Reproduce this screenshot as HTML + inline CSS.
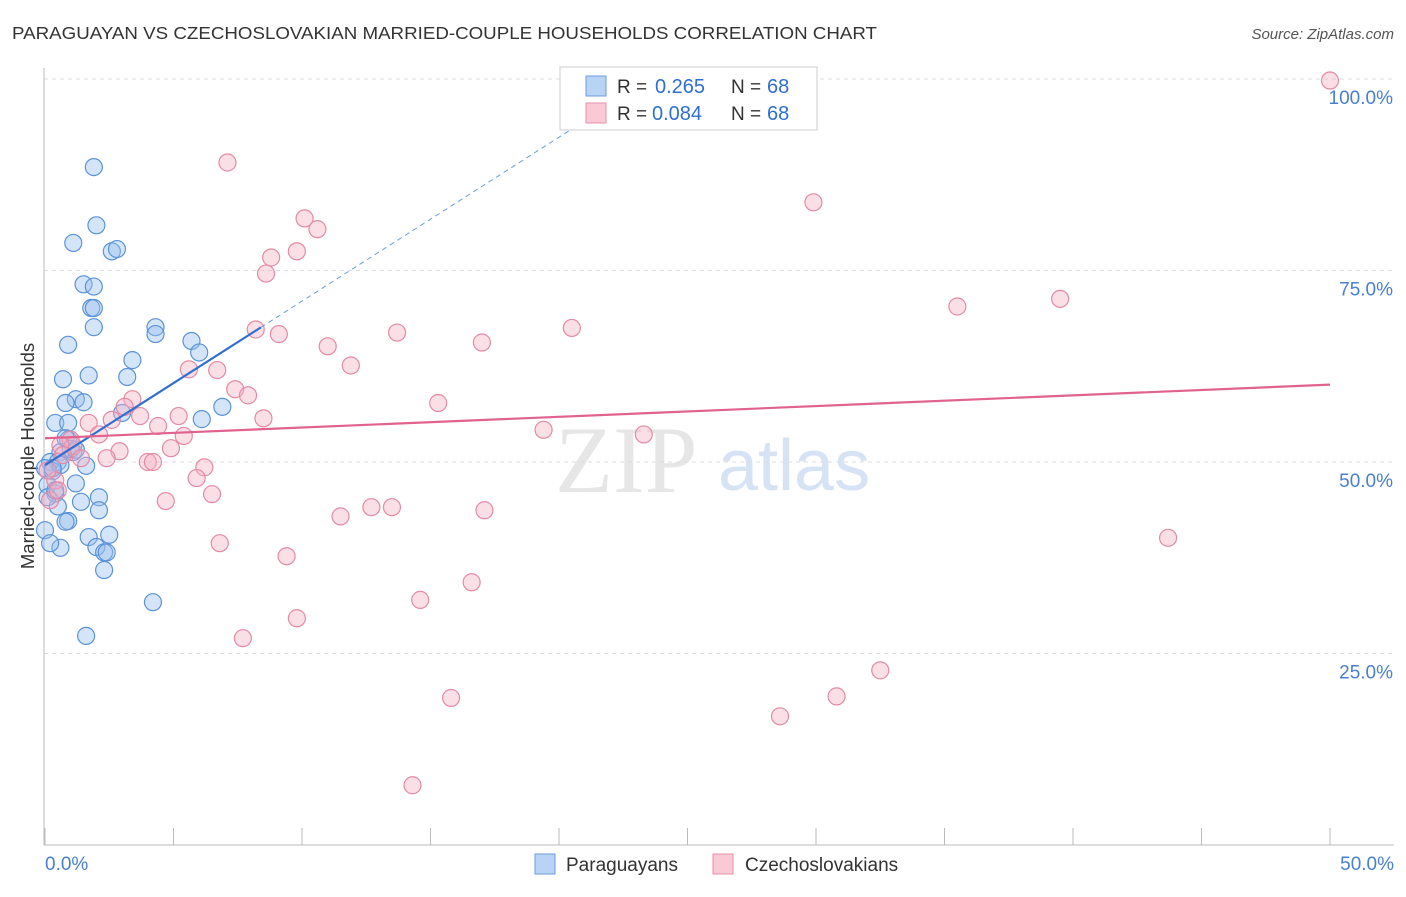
<!DOCTYPE html>
<html><head><meta charset="utf-8"><style>
body{margin:0;background:#fff;font-family:"Liberation Sans",sans-serif;}
</style></head><body>
<svg id="c" width="1406" height="892" xmlns="http://www.w3.org/2000/svg">
<text x="12" y="39" font-size="17.5" fill="#333" textLength="865" lengthAdjust="spacingAndGlyphs">PARAGUAYAN VS CZECHOSLOVAKIAN MARRIED-COUPLE HOUSEHOLDS CORRELATION CHART</text>
<text x="1394" y="39" font-size="15" fill="#555" font-style="italic" text-anchor="end">Source: ZipAtlas.com</text>
<text x="555" y="492" font-size="95" fill="#e6e6e6" font-family="Liberation Serif,serif">ZIP</text>
<text x="718" y="490" font-size="72" fill="#d5e3f4">atlas</text>
<g id="grid"></g>
<line x1="44" y1="68" x2="44" y2="845" stroke="#bbb"/>
<line x1="44" y1="845" x2="1394" y2="845" stroke="#bbb"/>
<text transform="translate(34,456) rotate(-90)" font-size="18.5" fill="#333" text-anchor="middle">Married-couple Households</text>
<text x="45" y="870" font-size="19" fill="#4a7fd0">0.0%</text>
<text x="1394" y="870" font-size="19" fill="#4a7fd0" text-anchor="end">50.0%</text>
<g id="pts"></g>
<g id="trend"></g>
<g>
<rect x="560" y="67" width="257" height="63" fill="#fff" stroke="#ccc"/>
<rect x="586" y="76" width="20" height="20" fill="#b9d3f5" stroke="#6a9ee0"/>
<rect x="586" y="103" width="20" height="20" fill="#f9c9d6" stroke="#e88fab"/>
<text x="617" y="93" font-size="19" fill="#333">R =</text>
<text x="655" y="93" font-size="20" fill="#2f6fd0">0.265</text>
<text x="731" y="93" font-size="19" fill="#333">N =</text>
<text x="767" y="93" font-size="20" fill="#2f6fd0">68</text>
<text x="617" y="120" font-size="19" fill="#333">R =</text>
<text x="652" y="120" font-size="20" fill="#2f6fd0">0.084</text>
<text x="731" y="120" font-size="19" fill="#333">N =</text>
<text x="767" y="120" font-size="20" fill="#2f6fd0">68</text>
</g>
<g>
<rect x="535" y="854" width="20" height="20" fill="#b9d3f5" stroke="#6a9ee0"/>
<text x="566" y="871" font-size="19" fill="#333">Paraguayans</text>
<rect x="713" y="854" width="20" height="20" fill="#f9c9d6" stroke="#e88fab"/>
<text x="745" y="871" font-size="19" fill="#333">Czechoslovakians</text>
</g>
</svg>
<script>
const yTicks=[25,50,75,100];
const xTicks=[0,5,10,15,20,25,30,35,40,45,50];
const blueX=[1.9,2.0,1.1,2.6,2.8,1.5,1.9,1.8,1.9,1.9,4.3,4.3,5.7,0.9,6.0,3.4,1.7,3.2,0.7,1.2,1.5,0.8,3.0,6.9,6.1,0.4,0.9,0.9,1.1,0.6,0.2,0.5,1.6,0.0,0.3,1.2,0.1,0.4,2.1,1.4,0.5,2.1,0.9,0.8,0.0,1.7,2.5,0.6,0.2,2.0,2.3,2.4,2.3,4.2,1.6,0.8,0.1,0.4,1.0,0.6,0.3,1.2];
const blueY=[88.5,80.9,78.6,77.5,77.8,73.2,72.9,70.1,70.1,67.6,67.6,66.7,65.8,65.3,64.3,63.3,61.3,61.1,60.8,58.2,57.8,57.7,56.4,57.2,55.6,55.1,55.1,52.9,51.3,51.3,50.0,50.0,49.5,49.2,48.8,47.2,47.0,45.9,45.4,44.8,44.2,43.7,42.3,42.2,41.1,40.2,40.5,38.8,39.4,38.9,38.2,38.2,35.9,31.7,27.3,53.1,45.4,46.3,51.7,49.6,49.2,51.6];
const pinkX=[50.0,7.1,29.9,10.1,10.6,9.8,8.8,8.6,39.5,35.5,20.5,8.2,13.7,9.1,17.0,11.0,11.9,5.6,6.7,7.4,7.9,3.4,3.1,8.5,5.2,2.6,3.7,4.4,1.7,2.1,5.4,1.0,19.4,23.3,1.1,2.9,4.9,2.4,1.4,4.0,4.2,6.2,5.9,15.3,6.5,4.7,13.5,12.7,17.1,11.5,43.7,6.8,9.4,16.6,14.6,9.8,7.7,32.5,30.8,15.8,28.6,14.3,0.6,0.2,0.4,0.7,0.1,0.5];
const pinkY=[99.8,89.1,83.9,81.8,80.4,77.5,76.7,74.6,71.3,70.3,67.5,67.3,66.9,66.7,65.6,65.1,62.6,62.1,62.0,59.5,58.7,58.2,57.2,55.7,56.0,55.5,56.0,54.7,55.1,53.6,53.4,52.9,54.2,53.6,52.1,51.4,51.8,50.5,50.5,50.0,50.0,49.3,47.9,57.7,45.8,44.9,44.1,44.1,43.7,42.9,40.1,39.4,37.7,34.3,32.0,29.6,27.0,22.8,19.4,19.2,16.8,7.8,52.2,45.0,47.6,50.9,48.9,46.3];
const blueTrend=[49.6,2.14];
const pinkTrend=[53.1,0.14];
const X=v=>45+v*25.7, Y=v=>845-v*7.66;
const NS="http://www.w3.org/2000/svg";
function mk(t,a,p){const e=document.createElementNS(NS,t);for(const k in a)e.setAttribute(k,a[k]);p.appendChild(e);return e;}
const g=document.getElementById('grid');
yTicks.forEach(t=>{
 const l=mk('line',{x1:44,x2:1394,y1:Y(t),y2:Y(t),stroke:'#ddd','stroke-dasharray':'4,4'},g);
 
 
 const tx=mk('text',{x:1393,y:Y(t)+25,'font-size':19,fill:'#4a7fd0','text-anchor':'end'},g);
 tx.textContent=t.toFixed(1)+'%';
 
 
});
xTicks.forEach(t=>{
 const l=mk('line',{x1:X(t),x2:X(t),y1:828,y2:845,stroke:'#bbb'},g);
 
 
});
const p=document.getElementById('pts');
blueX.forEach((x,i)=>{
 const c=mk('circle',{cx:X(x),cy:Y(blueY[i]),r:8.5,fill:'rgba(150,190,240,0.4)',stroke:'#5b93d9','stroke-width':1.2},p);
 
 
});
pinkX.forEach((x,i)=>{
 const c=mk('circle',{cx:X(x),cy:Y(pinkY[i]),r:8.5,fill:'rgba(245,175,195,0.4)',stroke:'#e58aa5','stroke-width':1.2},p);
 
 
});
const tr=document.getElementById('trend');
const bx2=8.4, bxe=(100-blueTrend[0])/blueTrend[1]+0.5;
let l1=mk('line',{x1:X(0),y1:Y(blueTrend[0]),x2:X(bx2),y2:Y(blueTrend[0]+blueTrend[1]*bx2),stroke:'#2f6fd0','stroke-width':2.2},tr);


let l2=mk('line',{x1:X(bx2),y1:Y(blueTrend[0]+blueTrend[1]*bx2),x2:X(bxe),y2:Y(blueTrend[0]+blueTrend[1]*bxe),stroke:'#6a9ee0','stroke-width':1,'stroke-dasharray':'5,4'},tr);


let l3=mk('line',{x1:X(0),y1:Y(pinkTrend[0]),x2:X(50),y2:Y(pinkTrend[0]+pinkTrend[1]*50),stroke:'#e0628e','stroke-width':2.2},tr);


</script>
</body></html>
